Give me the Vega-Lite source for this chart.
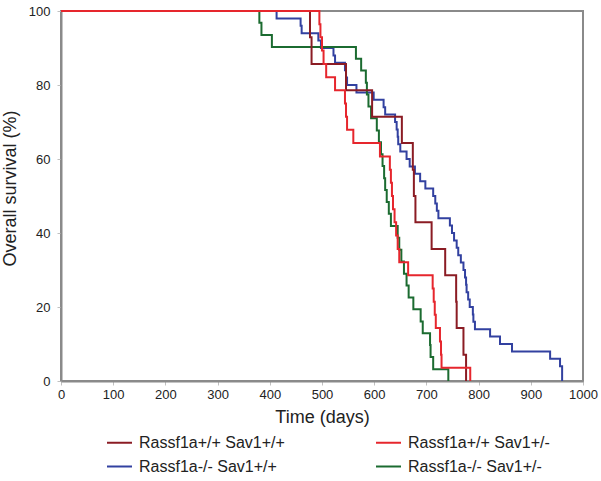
{
  "$schema": "https://vega.github.io/schema/vega-lite/v6.json",
  "width": 522,
  "height": 370,
  "autosize": {"type": "none"},
  "padding": {"left": 61, "top": 11, "right": 18, "bottom": 100},
  "config": {
    "font": "Liberation Sans",
    "view": {"stroke": "#8a8a8a", "strokeWidth": 2}
  },
  "datasets": {
    "km": [
      {"group": "Rassf1a-/- Sav1+/+", "day": 0, "survival": 100},
      {"group": "Rassf1a-/- Sav1+/+", "day": 413, "survival": 98},
      {"group": "Rassf1a-/- Sav1+/+", "day": 459, "survival": 96},
      {"group": "Rassf1a-/- Sav1+/+", "day": 461, "survival": 94},
      {"group": "Rassf1a-/- Sav1+/+", "day": 493, "survival": 92},
      {"group": "Rassf1a-/- Sav1+/+", "day": 498, "survival": 90},
      {"group": "Rassf1a-/- Sav1+/+", "day": 522, "survival": 88},
      {"group": "Rassf1a-/- Sav1+/+", "day": 525, "survival": 86},
      {"group": "Rassf1a-/- Sav1+/+", "day": 544, "survival": 84},
      {"group": "Rassf1a-/- Sav1+/+", "day": 546, "survival": 82},
      {"group": "Rassf1a-/- Sav1+/+", "day": 548, "survival": 80},
      {"group": "Rassf1a-/- Sav1+/+", "day": 566, "survival": 78},
      {"group": "Rassf1a-/- Sav1+/+", "day": 599, "survival": 76},
      {"group": "Rassf1a-/- Sav1+/+", "day": 618, "survival": 74},
      {"group": "Rassf1a-/- Sav1+/+", "day": 621, "survival": 72},
      {"group": "Rassf1a-/- Sav1+/+", "day": 640, "survival": 70},
      {"group": "Rassf1a-/- Sav1+/+", "day": 643, "survival": 68},
      {"group": "Rassf1a-/- Sav1+/+", "day": 645, "survival": 66},
      {"group": "Rassf1a-/- Sav1+/+", "day": 646, "survival": 64},
      {"group": "Rassf1a-/- Sav1+/+", "day": 650, "survival": 62},
      {"group": "Rassf1a-/- Sav1+/+", "day": 662, "survival": 60},
      {"group": "Rassf1a-/- Sav1+/+", "day": 668, "survival": 58},
      {"group": "Rassf1a-/- Sav1+/+", "day": 678, "survival": 56},
      {"group": "Rassf1a-/- Sav1+/+", "day": 688, "survival": 54},
      {"group": "Rassf1a-/- Sav1+/+", "day": 698, "survival": 52},
      {"group": "Rassf1a-/- Sav1+/+", "day": 713, "survival": 50},
      {"group": "Rassf1a-/- Sav1+/+", "day": 717, "survival": 48},
      {"group": "Rassf1a-/- Sav1+/+", "day": 720, "survival": 46},
      {"group": "Rassf1a-/- Sav1+/+", "day": 723, "survival": 44},
      {"group": "Rassf1a-/- Sav1+/+", "day": 745, "survival": 42},
      {"group": "Rassf1a-/- Sav1+/+", "day": 749, "survival": 40},
      {"group": "Rassf1a-/- Sav1+/+", "day": 753, "survival": 38},
      {"group": "Rassf1a-/- Sav1+/+", "day": 758, "survival": 36},
      {"group": "Rassf1a-/- Sav1+/+", "day": 761, "survival": 34},
      {"group": "Rassf1a-/- Sav1+/+", "day": 766, "survival": 32},
      {"group": "Rassf1a-/- Sav1+/+", "day": 771, "survival": 30},
      {"group": "Rassf1a-/- Sav1+/+", "day": 774, "survival": 28},
      {"group": "Rassf1a-/- Sav1+/+", "day": 776, "survival": 26},
      {"group": "Rassf1a-/- Sav1+/+", "day": 777, "survival": 24},
      {"group": "Rassf1a-/- Sav1+/+", "day": 780, "survival": 22},
      {"group": "Rassf1a-/- Sav1+/+", "day": 783, "survival": 20},
      {"group": "Rassf1a-/- Sav1+/+", "day": 789, "survival": 18},
      {"group": "Rassf1a-/- Sav1+/+", "day": 790, "survival": 16},
      {"group": "Rassf1a-/- Sav1+/+", "day": 793, "survival": 14},
      {"group": "Rassf1a-/- Sav1+/+", "day": 822, "survival": 12},
      {"group": "Rassf1a-/- Sav1+/+", "day": 841, "survival": 10},
      {"group": "Rassf1a-/- Sav1+/+", "day": 864, "survival": 8},
      {"group": "Rassf1a-/- Sav1+/+", "day": 937, "survival": 6},
      {"group": "Rassf1a-/- Sav1+/+", "day": 956, "survival": 4},
      {"group": "Rassf1a-/- Sav1+/+", "day": 960, "survival": 0},

      {"group": "Rassf1a-/-  Sav1+/-", "day": 0, "survival": 100},
      {"group": "Rassf1a-/-  Sav1+/-", "day": 380, "survival": 96.8},
      {"group": "Rassf1a-/-  Sav1+/-", "day": 384, "survival": 93.5},
      {"group": "Rassf1a-/-  Sav1+/-", "day": 404, "survival": 90.3},
      {"group": "Rassf1a-/-  Sav1+/-", "day": 565, "survival": 87.1},
      {"group": "Rassf1a-/-  Sav1+/-", "day": 575, "survival": 83.9},
      {"group": "Rassf1a-/-  Sav1+/-", "day": 584, "survival": 80.6},
      {"group": "Rassf1a-/-  Sav1+/-", "day": 586, "survival": 77.4},
      {"group": "Rassf1a-/-  Sav1+/-", "day": 589, "survival": 74.2},
      {"group": "Rassf1a-/-  Sav1+/-", "day": 594, "survival": 71.0},
      {"group": "Rassf1a-/-  Sav1+/-", "day": 605, "survival": 67.7},
      {"group": "Rassf1a-/-  Sav1+/-", "day": 609, "survival": 64.5},
      {"group": "Rassf1a-/-  Sav1+/-", "day": 613, "survival": 61.3},
      {"group": "Rassf1a-/-  Sav1+/-", "day": 616, "survival": 58.1},
      {"group": "Rassf1a-/-  Sav1+/-", "day": 619, "survival": 54.8},
      {"group": "Rassf1a-/-  Sav1+/-", "day": 621, "survival": 51.6},
      {"group": "Rassf1a-/-  Sav1+/-", "day": 624, "survival": 48.4},
      {"group": "Rassf1a-/-  Sav1+/-", "day": 628, "survival": 45.2},
      {"group": "Rassf1a-/-  Sav1+/-", "day": 632, "survival": 41.9},
      {"group": "Rassf1a-/-  Sav1+/-", "day": 645, "survival": 38.7},
      {"group": "Rassf1a-/-  Sav1+/-", "day": 648, "survival": 35.5},
      {"group": "Rassf1a-/-  Sav1+/-", "day": 652, "survival": 32.3},
      {"group": "Rassf1a-/-  Sav1+/-", "day": 657, "survival": 29.0},
      {"group": "Rassf1a-/-  Sav1+/-", "day": 662, "survival": 25.8},
      {"group": "Rassf1a-/-  Sav1+/-", "day": 666, "survival": 22.6},
      {"group": "Rassf1a-/-  Sav1+/-", "day": 675, "survival": 19.4},
      {"group": "Rassf1a-/-  Sav1+/-", "day": 689, "survival": 16.1},
      {"group": "Rassf1a-/-  Sav1+/-", "day": 693, "survival": 12.9},
      {"group": "Rassf1a-/-  Sav1+/-", "day": 707, "survival": 9.7},
      {"group": "Rassf1a-/-  Sav1+/-", "day": 708, "survival": 6.5},
      {"group": "Rassf1a-/-  Sav1+/-", "day": 713, "survival": 3.2},
      {"group": "Rassf1a-/-  Sav1+/-", "day": 742, "survival": 0},

      {"group": "Rassf1a+/+ Sav1+/+", "day": 0, "survival": 100},
      {"group": "Rassf1a+/+ Sav1+/+", "day": 477, "survival": 92.9},
      {"group": "Rassf1a+/+ Sav1+/+", "day": 480, "survival": 85.7},
      {"group": "Rassf1a+/+ Sav1+/+", "day": 546, "survival": 78.6},
      {"group": "Rassf1a+/+ Sav1+/+", "day": 596, "survival": 71.4},
      {"group": "Rassf1a+/+ Sav1+/+", "day": 653, "survival": 64.3},
      {"group": "Rassf1a+/+ Sav1+/+", "day": 674, "survival": 57.1},
      {"group": "Rassf1a+/+ Sav1+/+", "day": 676, "survival": 50.0},
      {"group": "Rassf1a+/+ Sav1+/+", "day": 679, "survival": 42.9},
      {"group": "Rassf1a+/+ Sav1+/+", "day": 710, "survival": 35.7},
      {"group": "Rassf1a+/+ Sav1+/+", "day": 736, "survival": 28.6},
      {"group": "Rassf1a+/+ Sav1+/+", "day": 757, "survival": 21.4},
      {"group": "Rassf1a+/+ Sav1+/+", "day": 758, "survival": 14.3},
      {"group": "Rassf1a+/+ Sav1+/+", "day": 771, "survival": 7.1},
      {"group": "Rassf1a+/+ Sav1+/+", "day": 776, "survival": 0},

      {"group": "Rassf1a+/+ Sav1+/-", "day": 0, "survival": 100},
      {"group": "Rassf1a+/+ Sav1+/-", "day": 495, "survival": 96.4},
      {"group": "Rassf1a+/+ Sav1+/-", "day": 497, "survival": 92.9},
      {"group": "Rassf1a+/+ Sav1+/-", "day": 500, "survival": 89.3},
      {"group": "Rassf1a+/+ Sav1+/-", "day": 503, "survival": 85.7},
      {"group": "Rassf1a+/+ Sav1+/-", "day": 508, "survival": 82.1},
      {"group": "Rassf1a+/+ Sav1+/-", "day": 525, "survival": 78.6},
      {"group": "Rassf1a+/+ Sav1+/-", "day": 544, "survival": 75.0},
      {"group": "Rassf1a+/+ Sav1+/-", "day": 546, "survival": 71.4},
      {"group": "Rassf1a+/+ Sav1+/-", "day": 548, "survival": 67.9},
      {"group": "Rassf1a+/+ Sav1+/-", "day": 560, "survival": 64.3},
      {"group": "Rassf1a+/+ Sav1+/-", "day": 611, "survival": 60.7},
      {"group": "Rassf1a+/+ Sav1+/-", "day": 630, "survival": 57.1},
      {"group": "Rassf1a+/+ Sav1+/-", "day": 632, "survival": 53.6},
      {"group": "Rassf1a+/+ Sav1+/-", "day": 634, "survival": 50.0},
      {"group": "Rassf1a+/+ Sav1+/-", "day": 636, "survival": 46.4},
      {"group": "Rassf1a+/+ Sav1+/-", "day": 639, "survival": 42.9},
      {"group": "Rassf1a+/+ Sav1+/-", "day": 642, "survival": 39.3},
      {"group": "Rassf1a+/+ Sav1+/-", "day": 645, "survival": 35.7},
      {"group": "Rassf1a+/+ Sav1+/-", "day": 648, "survival": 32.1},
      {"group": "Rassf1a+/+ Sav1+/-", "day": 665, "survival": 28.6},
      {"group": "Rassf1a+/+ Sav1+/-", "day": 712, "survival": 25.0},
      {"group": "Rassf1a+/+ Sav1+/-", "day": 714, "survival": 21.4},
      {"group": "Rassf1a+/+ Sav1+/-", "day": 716, "survival": 17.9},
      {"group": "Rassf1a+/+ Sav1+/-", "day": 718, "survival": 14.3},
      {"group": "Rassf1a+/+ Sav1+/-", "day": 726, "survival": 10.7},
      {"group": "Rassf1a+/+ Sav1+/-", "day": 728, "survival": 7.1},
      {"group": "Rassf1a+/+ Sav1+/-", "day": 729, "survival": 3.6},
      {"group": "Rassf1a+/+ Sav1+/-", "day": 784, "survival": 0}
    ]
  },
  "data": {"name": "km"},
  "mark": {"type": "line", "interpolate": "step-after", "strokeWidth": 2},
  "encoding": {
    "x": {
      "field": "day",
      "type": "quantitative",
      "scale": {"domain": [0, 1000], "nice": false},
      "axis": {
        "values": [0, 100, 200, 300, 400, 500, 600, 700, 800, 900, 1000],
        "format": "d",
        "grid": false,
        "domainColor": "#8a8a8a",
        "domainWidth": 2,
        "tickColor": "#c0c0c0",
        "tickSize": 4,
        "labelFontSize": 13,
        "labelColor": "#222222",
        "labelPadding": 3,
        "labelFlush": false,
        "labelOverlap": false,
        "title": "Time (days)",
        "titleFontSize": 18,
        "titleFontWeight": "normal",
        "titleColor": "#222222",
        "titleX": 261,
        "titleY": 36,
        "titleBaseline": "middle"
      }
    },
    "y": {
      "field": "survival",
      "type": "quantitative",
      "scale": {"domain": [0, 100], "nice": false},
      "axis": {
        "values": [0, 20, 40, 60, 80, 100],
        "grid": false,
        "domainColor": "#8a8a8a",
        "domainWidth": 2,
        "tickColor": "#c0c0c0",
        "tickSize": 4,
        "labelFontSize": 13,
        "labelColor": "#222222",
        "labelPadding": 7,
        "labelFlush": false,
        "labelOverlap": false,
        "title": "Overall survival (%)",
        "titleFontSize": 18,
        "titleFontWeight": "normal",
        "titleColor": "#222222",
        "titleX": -51,
        "titleY": 177,
        "titleBaseline": "middle",
        "titleAlign": "center"
      }
    },
    "color": {
      "field": "group",
      "type": "nominal",
      "scale": {
        "domain": ["Rassf1a+/+ Sav1+/+", "Rassf1a+/+ Sav1+/-", "Rassf1a-/- Sav1+/+", "Rassf1a-/-  Sav1+/-"],
        "range": ["#8b1c24", "#e6262d", "#3241a0", "#1b6b30"]
      },
      "legend": {
        "orient": "none",
        "direction": "horizontal",
        "legendX": 45,
        "legendY": 418,
        "columns": 2,
        "columnPadding": 87,
        "rowPadding": 2,
        "padding": 0,
        "title": null,
        "symbolType": "stroke",
        "symbolSize": 625,
        "symbolStrokeWidth": 2,
        "labelFontSize": 16,
        "labelOffset": 6,
        "labelLimit": 300,
        "labelColor": "#222222"
      }
    }
  }
}
